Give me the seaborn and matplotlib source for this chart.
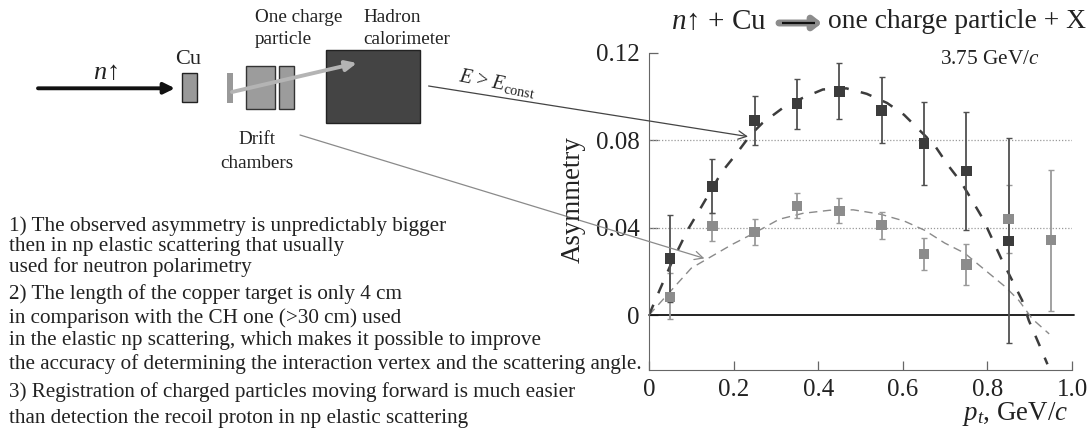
import pandas as pd
import seaborn as sns
import matplotlib.pyplot as plt
from matplotlib.patches import Rectangle

sns.set_style("white")
plt.rcParams['font.family'] = ['Liberation Serif', 'DejaVu Serif']
plt.rcParams['mathtext.fontset'] = 'custom'
plt.rcParams['mathtext.rm'] = 'Liberation Serif'
plt.rcParams['mathtext.it'] = 'Liberation Serif:italic'

# points
pt_dark = [0.05, 0.15, 0.25, 0.35, 0.45, 0.55, 0.65, 0.75, 0.85]
asym_dark = [0.0258, 0.0588, 0.089, 0.0968, 0.1025, 0.0936, 0.0785, 0.0659, 0.034]
top_dark = [0.0457, 0.0713, 0.1002, 0.1083, 0.1154, 0.1089, 0.0975, 0.0931, 0.0811]
low_dark = [0.006, 0.0466, 0.0778, 0.0854, 0.0899, 0.0786, 0.0595, 0.0388, -0.0128]

pt_gray = [0.05, 0.15, 0.25, 0.35, 0.45, 0.55, 0.65, 0.75, 0.85, 0.95]
asym_gray = [0.0083, 0.0408, 0.038, 0.05, 0.0477, 0.0412, 0.028, 0.0232, 0.044, 0.0343]
top_gray = [0.0192, 0.0466, 0.0439, 0.0558, 0.0537, 0.0473, 0.0351, 0.0326, 0.0595, 0.0666]
low_gray = [-0.0019, 0.0341, 0.0323, 0.0443, 0.0422, 0.0349, 0.0208, 0.0136, 0.0284, 0.002]

# dashed curves
curve_dark_x = [0, 0.025, 0.053, 0.092, 0.116, 0.172, 0.204, 0.24, 0.268, 0.316, 0.364, 0.411, 0.467,
                0.515, 0.563, 0.603, 0.643, 0.675, 0.707, 0.738, 0.762, 0.79, 0.834, 0.858, 0.882,
                0.898, 0.922, 0.942]
curve_dark_y = [0, 0.0114, 0.0238, 0.0392, 0.047, 0.0655, 0.0732, 0.0825, 0.0879, 0.0948, 0.0995, 0.1033,
                0.1038, 0.1013, 0.0971, 0.0917, 0.084, 0.0778, 0.0686, 0.0608, 0.0531, 0.0439, 0.0253,
                0.0161, 0.0068, -0.0025, -0.0133, -0.0225]
curve_gray_x = [0, 0.053, 0.1, 0.14, 0.196, 0.25, 0.308, 0.364, 0.427, 0.483, 0.547, 0.603, 0.651, 0.699,
                0.746, 0.794, 0.842, 0.874, 0.906, 0.946]
curve_gray_y = [0, 0.0114, 0.0215, 0.026, 0.0323, 0.0377, 0.0439, 0.0466, 0.048, 0.0482, 0.0462, 0.0431,
                0.0389, 0.033, 0.0284, 0.0207, 0.013, 0.0068, -0.0017, -0.0086]

xticks = [0, 0.2, 0.4, 0.6, 0.8, 1.0]
xtick_labels = ['0', '0.2', '0.4', '0.6', '0.8', '1.0']
yticks = [0, 0.04, 0.08, 0.12]
ytick_labels = ['0', '0.04', '0.08', '0.12']

notes = [
    (226, "1) The observed asymmetry is unpredictably bigger"),
    (246, "then in np elastic scattering that usually"),
    (267, "used for neutron polarimetry"),
    (294, "2) The length of the copper target is only 4 cm"),
    (318, "in comparison with the CH one (>30 cm) used"),
    (341, "in the elastic np scattering, which makes it possible to improve"),
    (364, "the accuracy of determining the interaction vertex and the scattering angle."),
    (392, "3) Registration of charged particles moving forward is much easier"),
    (419, "than detection the recoil proton in np elastic scattering"),
]

dark = '#3c3c3c'
gray = '#8c8c8c'
W, H = 1089, 429

fig = plt.figure(figsize=(W / 100, H / 100), dpi=100)
ax = fig.add_axes([649 / W, 1 - 369.5 / H, 423 / W, 316.5 / H])

dark_df = pd.DataFrame({'x': pt_dark, 'y': asym_dark})
gray_df = pd.DataFrame({'x': pt_gray, 'y': asym_gray})

ax.axhline(0.04, color='#999999', lw=0.9, ls=(0, (1, 1.5)), zorder=1)
ax.axhline(0.08, color='#999999', lw=0.9, ls=(0, (1, 1.5)), zorder=1)
ax.plot([0, 1.005], [0, 0], color='#111111', lw=1.3, zorder=1, clip_on=False)

sns.lineplot(x=curve_gray_x, y=curve_gray_y, ax=ax, color='#8a8a8a', lw=1.0, sort=False, zorder=2,
             linestyle=(0, (6, 4)), errorbar=None)
sns.lineplot(x=curve_dark_x, y=curve_dark_y, ax=ax, color=dark, lw=1.8, sort=False, zorder=2,
             linestyle=(0, (4.5, 5)), errorbar=None)

ax.errorbar(pt_gray, asym_gray,
            yerr=[[a - b for a, b in zip(asym_gray, low_gray)], [b - a for a, b in zip(asym_gray, top_gray)]],
            fmt='none', ecolor='#9a9a9a', elinewidth=1.3, capsize=2.5, capthick=1.0, zorder=3)
ax.errorbar(pt_dark, asym_dark,
            yerr=[[a - b for a, b in zip(asym_dark, low_dark)], [b - a for a, b in zip(asym_dark, top_dark)]],
            fmt='none', ecolor='#505050', elinewidth=1.3, capsize=2.5, capthick=1.0, zorder=4)
sns.scatterplot(data=gray_df, x='x', y='y', ax=ax, marker='s', s=58, color=gray, edgecolor='none', zorder=5)
sns.scatterplot(data=dark_df, x='x', y='y', ax=ax, marker='s', s=58, color=dark, edgecolor='none', zorder=6)

ax.set_xlim(0, 1.0)
ax.set_ylim(-0.0249, 0.12)
ax.set_xticks(xticks)
ax.set_xticklabels(xtick_labels, fontsize=18, color='#222222')
ax.set_yticks(yticks)
ax.set_yticklabels(ytick_labels, fontsize=18, color='#222222')
ax.tick_params(axis='both', direction='in', length=6.5, width=0.9, color='#666666', pad=7,
               bottom=True, left=True)
ax.set_xlabel('')
ax.set_ylabel('')
sns.despine(ax=ax)
ax.spines['left'].set_color('#666666')
ax.spines['bottom'].set_color('#666666')

# overlay in picture pixels for the detector sketch, labels and arrows
ov = fig.add_axes([0, 0, 1, 1], zorder=10)
ov.set_xlim(0, W)
ov.set_ylim(H, 0)
ov.axis('off')
ov.patch.set_alpha(0)

for x0, y0, w, h, fc, ec in [(181.5, 73, 15, 29, '#999999', '#222222'),
                             (226.8, 73, 5.7, 30, '#999999', 'none'),
                             (245.7, 66, 29.3, 43, '#9c9c9c', '#333333'),
                             (279, 66, 15, 43, '#9c9c9c', '#333333'),
                             (325.7, 50, 94, 73, '#444444', '#222222')]:
    ov.add_patch(Rectangle((x0, y0), w, h, facecolor=fc, edgecolor=ec, lw=1))

ov.annotate('', xy=(175, 88.3), xytext=(38, 88.3),
            arrowprops=dict(arrowstyle='-|>,head_width=0.32,head_length=0.65', color='#111111', lw=2.8,
                            shrinkA=0, shrinkB=0))
ov.annotate('', xy=(357, 63), xytext=(232, 92),
            arrowprops=dict(arrowstyle='-|>,head_width=0.3,head_length=0.65', color='#b4b4b4', lw=2.8,
                            shrinkA=0, shrinkB=0))
ov.annotate('', xy=(748, 136.6), xytext=(428.6, 86),
            arrowprops=dict(arrowstyle='->,head_width=0.3,head_length=0.6', color='#444444', lw=0.9,
                            shrinkA=0, shrinkB=0))
ov.annotate('', xy=(704.4, 258.4), xytext=(300, 135),
            arrowprops=dict(arrowstyle='->,head_width=0.3,head_length=0.6', color='#8a8a8a', lw=0.9,
                            shrinkA=0, shrinkB=0))


def label(x, y, s, size, **kw):
    kw.setdefault('ha', 'left')
    kw.setdefault('va', 'center')
    ov.text(x, y, s, fontsize=size, color='#222222', **kw)


label(298.5, 17, 'One charge', 13.8, ha='center')
label(255, 39, 'particle', 13.8)
label(363.6, 17, 'Hadron', 13.8)
label(363.6, 39, 'calorimeter', 13.8)
label(188, 60, 'Cu', 16, ha='center')
label(105, 73, '$n$↑', 19, ha='center')
label(257, 139, 'Drift', 13.8, ha='center')
label(257, 163, 'chambers', 13.8, ha='center')
label(497, 83, r'$E$ > $E_{\mathrm{const}}$', 14.5, ha='center', rotation=-11, rotation_mode='anchor')

for y, s in notes:
    label(9.3, y, s, 15.2)

label(671, 22, '$n$↑ + Cu', 21)
label(828, 22, 'one charge particle + X', 19.8)
ov.annotate('', xy=(822, 23), xytext=(779, 23),
            arrowprops=dict(arrowstyle='-|>,head_width=0.35,head_length=0.45', color='#8c8c8c', lw=5,
                            shrinkA=0, shrinkB=0))
ov.plot([782, 815], [23, 23], color='#111111', lw=1.6, solid_capstyle='butt', zorder=5)

label(940.5, 60, '3.75 GeV/$c$', 15.3)
label(573, 200, 'Asymmetry', 19.4, ha='center', rotation=90)
label(1068, 414, '$p_t$, GeV/$c$', 19.4, ha='right')

fig.savefig('out.png', dpi=100)
